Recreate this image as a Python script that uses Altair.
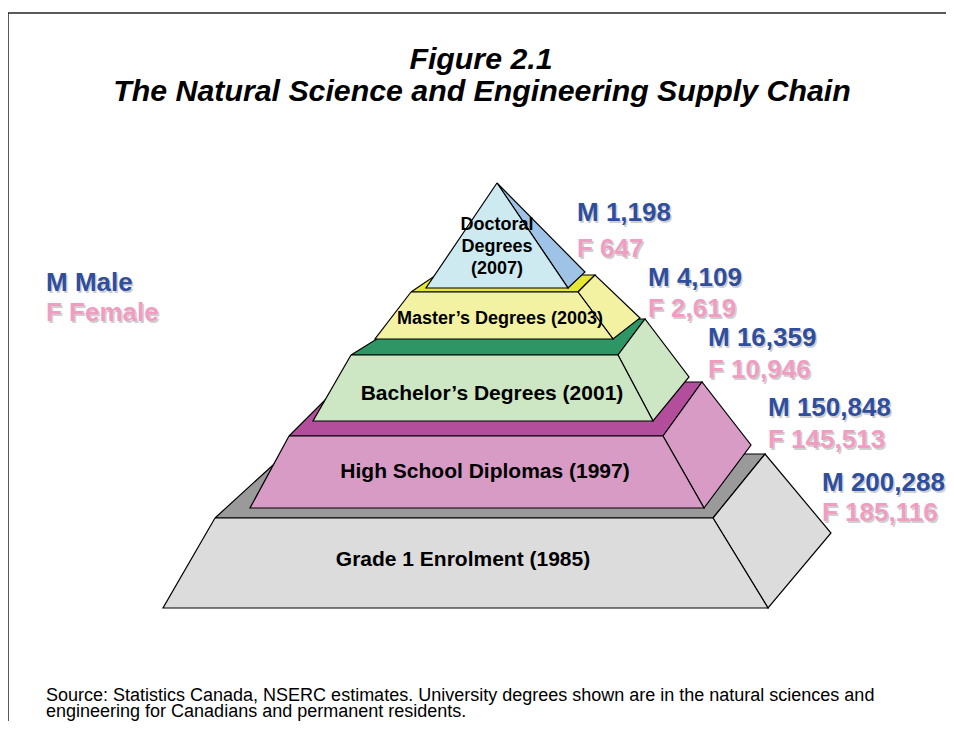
import altair as alt
import pandas as pd

# ---------------- data ----------------
levels = ["Grade 1 Enrolment (1985)", "High School Diplomas (1997)",
          "Bachelor\u2019s Degrees (2001)", "Master\u2019s Degrees (2003)",
          "Doctoral\nDegrees\n(2007)"]
male = [200288, 150848, 16359, 4109, 1198]
female = [185116, 145513, 10946, 2619, 647]
legend_items = ["M Male", "F Female"]
title_lines = ["Figure 2.1", "The Natural Science and Engineering Supply Chain"]
source_text = ("Source: Statistics Canada, NSERC estimates. University degrees shown are in the natural sciences and\n"
               "engineering for Canadians and permanent residents.")

# ---------------- layout (page pixel space) ----------------
W, H = 938, 713
OX, OY = 8, 8
xs = alt.Scale(domain=[OX, OX + W], nice=False, zero=False)
ys = alt.Scale(domain=[OY, OY + H], nice=False, zero=False, reverse=True)

front_col = ["#dcdcdc", "#d89bc5", "#cde6c4", "#f3f2a3", "#cdeaf1"]
top_col = ["#9a9a9a", "#b24e9c", "#2e9565", "#e6e635", None]
side_col = ["#dcdcdc", "#d89bc5", "#cde6c4", "#f3f2a3", "#9ec3e7"]

# each tier: front-face trapezoid (top y, bottom y, top-left x, top-right x, bottom-left x, bottom-right x),
# back edge of its top face (y, left x, right x), right vertex of side face
tiers = [
    dict(ty=518, by=608, tl=215, tr=713, bl=163, br=768, backy=454, backl=285, backr=765, side=(831, 533)),
    dict(ty=436, by=508, tl=289, tr=663, bl=250, br=704, backy=382, backl=343, backr=702, side=(751, 445)),
    dict(ty=355, by=421, tl=351, tr=618, bl=313, br=653, backy=319, backl=409, backr=645, side=(689, 377)),
    dict(ty=292, by=339, tl=411, tr=578, bl=375, br=613, backy=275, backl=436, backr=595, side=(640, 318)),
    dict(ty=183, by=288, tl=497, tr=497, bl=426, br=568, backy=None, side=(585, 272)),
]

polys = []
for k, t in enumerate(tiers):
    if t["backy"] is not None:
        polys.append((top_col[k], [(t["tl"], t["ty"]), (t["tr"], t["ty"]), (t["backr"], t["backy"]), (t["backl"], t["backy"])]))
        polys.append((side_col[k], [(t["tr"], t["ty"]), (t["backr"], t["backy"]), t["side"], (t["br"], t["by"])]))
        polys.append((front_col[k], [(t["tl"], t["ty"]), (t["tr"], t["ty"]), (t["br"], t["by"]), (t["bl"], t["by"])]))
    else:
        polys.append((side_col[k], [(t["tr"], t["ty"]), t["side"], (t["br"], t["by"])]))
        polys.append((front_col[k], [(t["tl"], t["ty"]), (t["br"], t["by"]), (t["bl"], t["by"])]))

def X(f="x"):
    return alt.X(f + ":Q", scale=xs, axis=None)

def Y(f="y"):
    return alt.Y(f + ":Q", scale=ys, axis=None)

layers = []
for pid, (col, pts) in enumerate(polys):
    pts = list(pts) + [pts[0]]
    df = pd.DataFrame({"x": [p[0] for p in pts], "y": [p[1] for p in pts], "i": list(range(len(pts)))})
    layers.append(
        alt.Chart(df).mark_line(fill=col, stroke="black", strokeWidth=1.2, strokeJoin="miter", interpolate="linear")
        .encode(x=X(), y=Y(), order=alt.Order("i:Q"))
    )

FONT = "Liberation Sans"

def text_layer(rows, **kw):
    df = pd.DataFrame(rows)
    return alt.Chart(df).mark_text(font=FONT, **kw).encode(x=X(), y=Y(), text="t:N")

# frame
frame = pd.DataFrame({"x": [OX, OX], "x2": [OX + W, OX], "y": [13, 13], "y2": [13, OY + H]})
layers.append(alt.Chart(frame).mark_rule(color="#222", strokeWidth=1.5)
              .encode(x=X(), x2="x2:Q", y=Y(), y2="y2:Q"))

# tier labels
label_pos = [(463, 560, 21), (485, 472, 21), (492, 394, 21), (500, 319, 18), (497, 225, 18)]
for k, lab in enumerate(levels):
    x, y, fs = label_pos[k]
    layers.append(text_layer([{"x": x, "y": y, "t": lab}], fontSize=fs, fontWeight="bold", color="black",
                             align="center", baseline="middle", lineBreak="\n", lineHeight=22))

# M / F values
M_COL, F_COL, SH = "#2f4e9e", "#f19dc2", "#cfcfcf"
val_x = [822, 768, 708, 648, 577]
m_y = [483, 408, 338, 278, 213]
f_y = [513, 440, 370, 309, 249]
m_rows = [{"x": val_x[k], "y": m_y[k], "t": f"M {male[k]:,}"} for k in range(5)]
f_rows = [{"x": val_x[k], "y": f_y[k], "t": f"F {female[k]:,}"} for k in range(5)]
leg_m = [{"x": 46, "y": 283, "t": legend_items[0]}]
leg_f = [{"x": 46, "y": 313, "t": legend_items[1]}]
for rows, col in [(m_rows + leg_m, M_COL), (f_rows + leg_f, F_COL)]:
    layers.append(text_layer(rows, fontSize=26, fontWeight="bold", color=SH, align="left", baseline="middle", dx=1.5, dy=1.5))
    layers.append(text_layer(rows, fontSize=26, fontWeight="bold", color=col, align="left", baseline="middle"))

# title
layers.append(text_layer([{"x": 481, "y": 60, "t": title_lines[0]}, {"x": 482, "y": 92, "t": title_lines[1]}],
                         fontSize=30.3, fontWeight="bold", fontStyle="italic", color="black",
                         align="center", baseline="middle"))
# source (one two-line text block)
layers.append(text_layer([{"x": 46, "y": 701, "t": source_text}],
                         fontSize=18, color="black", align="left", baseline="alphabetic",
                         lineBreak="\n", lineHeight=16))

chart = alt.layer(*layers).properties(
    width=W, height=H, padding=0, autosize=alt.AutoSizeParams(type="none"), background="white"
).configure_view(stroke=None)

chart.save("out.html", embed_options={"renderer": "svg", "actions": False})
